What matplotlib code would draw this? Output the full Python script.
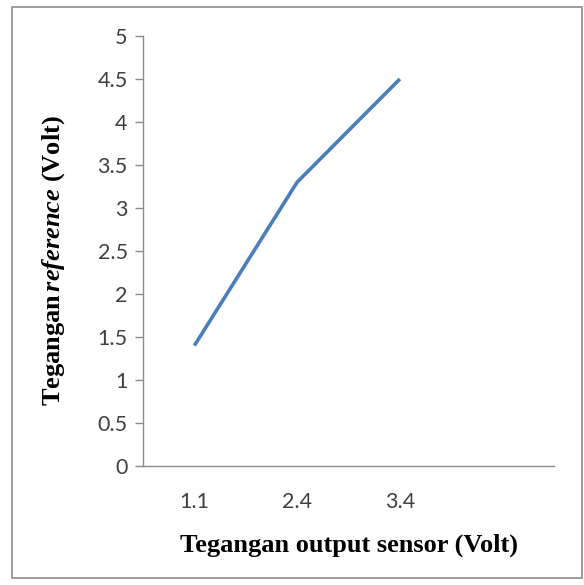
import matplotlib
matplotlib.use("Agg")
import matplotlib.pyplot as plt
from matplotlib.patches import Rectangle

# data
categories = ["1.1", "2.4", "3.4", ""]
reference_volt = [1.4, 3.3, 4.5]
y_ticks = [0, 0.5, 1, 1.5, 2, 2.5, 3, 3.5, 4, 4.5, 5]

plt.rcParams['mathtext.fontset'] = 'custom'
plt.rcParams['mathtext.rm'] = 'Liberation Serif:bold'
plt.rcParams['mathtext.it'] = 'Liberation Serif:italic:bold'
plt.rcParams['mathtext.bf'] = 'Liberation Serif:bold'

fig = plt.figure(figsize=(5.84, 5.85), dpi=100)
ax = fig.add_axes([143/584, 1 - 466/585, (554 - 143)/584, (466 - 36)/585])

# outer frame
fig.patches.append(Rectangle((12/584, 1 - 578/585), 570/584, 571/585,
                             transform=fig.transFigure, fill=False,
                             edgecolor='#8c8c8c', linewidth=1.2))

x = list(range(len(reference_volt)))
ax.plot(x, reference_volt, color='#4a7ebb', linewidth=2.6, solid_capstyle='butt')

ax.set_xlim(-0.5, len(categories) - 0.5)
ax.set_ylim(0, 5)
ax.set_xticks(range(len(categories)))
ax.set_xticklabels(categories)
ax.set_yticks(y_ticks)
ax.set_yticklabels([f"{v:g}" for v in y_ticks])

for s in ['top', 'right']:
    ax.spines[s].set_visible(False)
for s in ['left', 'bottom']:
    ax.spines[s].set_color('#8c8c8c')
    ax.spines[s].set_linewidth(1.0)

ax.tick_params(axis='y', direction='out', length=6, width=1, color='#8c8c8c',
               labelsize=15.5, pad=5)
ax.tick_params(axis='x', length=0, labelsize=15.5, pad=19)
for lab in ax.get_xticklabels() + ax.get_yticklabels():
    lab.set_fontfamily('Lato')
    lab.set_color('#404040')

ax.set_xlabel('Tegangan output sensor (Volt)', fontfamily='Liberation Serif',
              fontweight='bold', fontsize=19, labelpad=15)
ax.set_ylabel(r'$\mathrm{Tegangan}\,\mathit{reference}\ \mathrm{(Volt)}$',
              fontsize=19)
ax.yaxis.set_label_coords(-0.184, 0.477)

fig.savefig('out.png', dpi=100)
